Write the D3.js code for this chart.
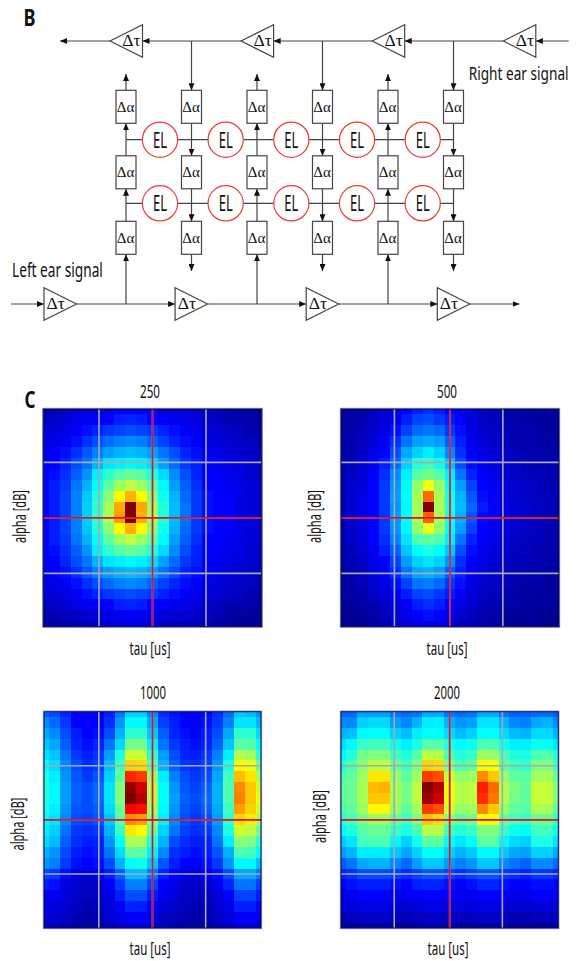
<!DOCTYPE html>
<html>
<head>
<meta charset="utf-8">
<style>
  body { margin: 0; background: #fff; }
  svg { display: block; }
  text { font-family: "Noto Sans", "Liberation Sans", sans-serif; fill: #111; }
  .sym { font-family: "Liberation Serif", serif; }
</style>
<script src="https://cdnjs.cloudflare.com/ajax/libs/d3/7.8.5/d3.min.js"></script>
</head>
<body>
<script>
var width = 577, height = 961;

// schematic network
var columns = ["c1", "c2", "c3", "c4", "c5", "c6"];
var delayRows = ["a1", "a2", "a3"];
var elRows = ["e1", "e2"];
var upColumns = ["c1", "c3", "c5"];
var downColumns = ["c2", "c4", "c6"];
var topDelays = ["t1", "t2", "t3", "t4"];
var bottomDelays = ["b1", "b2", "b3", "b4"];

// heat map panels, cell values on a 0-100 jet scale
var panelNames = ["250", "500", "1000", "2000"];
var heat250 = [
  [4,5,6,7,8,9,10,11,12,11,10,9,8,8,7,6,5,4,3,3,2],
  [6,7,8,10,11,12,13,15,16,15,13,12,11,10,9,7,6,5,5,4,3],
  [8,9,10,12,14,16,18,19,20,19,18,16,14,12,11,9,8,7,6,5,4],
  [9,10,12,14,17,20,23,25,26,25,22,19,16,14,12,10,9,8,7,6,5],
  [10,12,14,17,21,25,28,30,31,30,28,24,20,16,14,11,10,9,8,7,6],
  [11,13,16,20,24,30,35,36,37,36,34,28,23,18,15,12,11,10,9,8,7],
  [12,14,17,22,27,36,42,46,48,46,41,34,26,20,16,13,12,11,10,8,7],
  [12,15,18,24,30,38,47,53,56,53,46,37,28,22,17,13,12,11,10,9,8],
  [12,15,19,25,32,41,51,63,70,63,50,39,30,23,18,14,13,12,10,9,8],
  [12,15,19,25,33,42,54,71,100,71,53,41,31,24,18,14,13,13,10,9,8],
  [12,15,19,25,33,42,54,72,100,70,53,41,31,24,18,14,13,13,10,9,8],
  [12,15,19,25,32,41,51,63,70,63,50,39,30,23,18,14,13,12,10,9,8],
  [12,15,18,24,30,38,47,53,56,53,46,37,28,22,17,13,12,11,10,9,8],
  [12,14,17,22,27,36,42,46,48,46,41,34,26,20,16,13,12,11,10,8,7],
  [11,13,16,20,24,30,35,36,37,36,34,28,23,18,15,12,11,10,9,8,7],
  [10,12,14,17,21,25,28,30,31,30,28,24,20,16,14,11,10,9,8,7,6],
  [9,10,12,14,17,20,23,25,26,25,22,19,16,14,12,10,9,8,7,6,5],
  [8,9,10,12,14,16,18,19,20,19,18,16,14,12,11,9,8,7,6,5,4],
  [6,7,8,10,11,12,13,15,16,15,13,12,11,10,9,7,6,5,5,4,3],
  [4,5,6,7,8,9,10,11,12,11,10,9,8,8,7,6,5,4,3,3,2],
  [3,3,4,5,6,7,8,9,10,9,8,7,6,6,5,4,3,3,2,2,1]
];
var heat500 = [
  [2,3,4,5,7,9,12,15,17,15,12,10,8,6,5,4,4,3,3,3,2],
  [3,4,5,7,9,11,15,19,20,18,15,12,9,7,6,5,4,4,3,3,3],
  [3,4,6,8,10,14,19,23,24,23,18,14,10,8,7,6,5,4,4,3,3],
  [3,5,6,9,12,17,24,28,29,28,22,15,11,9,7,6,5,5,4,4,3],
  [4,5,7,10,13,20,29,33,36,33,26,17,12,10,8,7,6,5,5,4,4],
  [4,6,8,11,15,23,33,41,43,39,31,20,14,11,9,8,6,6,5,5,4],
  [5,7,9,12,17,26,36,46,49,46,36,24,16,12,10,8,7,6,6,5,4],
  [5,8,9,13,18,27,37,52,61,52,38,28,19,13,11,9,8,7,6,5,5],
  [5,8,10,13,18,28,38,54,77,54,40,30,21,14,12,9,8,7,6,6,5],
  [5,8,10,13,18,27,37,54,100,54,40,31,23,15,12,10,9,8,7,6,5],
  [5,8,10,13,18,28,38,54,78,54,40,30,21,14,12,9,8,7,6,6,5],
  [5,7,9,13,18,27,37,52,60,52,38,28,19,13,11,9,8,7,6,5,5],
  [5,7,9,12,17,25,35,45,47,45,36,24,16,12,10,8,7,6,6,5,4],
  [4,6,8,11,15,22,32,38,40,38,32,20,14,11,9,8,6,6,5,5,4],
  [4,5,7,10,13,19,28,33,35,33,27,17,12,10,8,7,6,5,5,4,4],
  [3,5,6,9,12,17,24,29,30,28,22,15,11,9,7,6,5,5,4,4,3],
  [3,4,6,8,10,14,19,24,25,23,18,14,10,8,7,6,5,4,4,3,3],
  [3,4,5,7,9,11,15,19,20,18,15,12,9,7,6,5,4,4,3,3,3],
  [2,3,4,5,7,9,12,15,17,15,12,10,8,6,5,4,4,3,3,3,2],
  [2,2,3,4,6,8,10,13,14,13,10,8,6,5,4,3,3,3,2,2,2],
  [1,2,2,3,5,6,8,9,10,9,8,6,5,4,3,3,2,2,2,1,1]
];
var heat1000 = [
  [22,20,16,12,11,12,15,24,33,33,26,17,14,12,11,13,17,23,32,31,27],
  [26,23,18,13,12,13,17,27,37,37,29,19,15,13,12,14,18,25,35,35,30],
  [29,26,20,15,13,14,20,30,42,42,32,22,16,14,13,15,20,29,42,42,34],
  [32,29,22,16,14,16,24,34,49,49,36,24,18,15,14,16,22,32,46,46,37],
  [35,32,24,18,15,18,28,40,58,57,42,28,20,16,15,18,25,36,55,53,42],
  [38,34,26,20,17,19,31,44,67,66,46,30,22,18,17,19,27,40,63,61,48],
  [40,36,27,21,18,21,33,47,84,82,52,36,25,20,18,20,29,44,69,65,54],
  [41,37,28,22,20,23,35,50,98,92,55,38,27,21,19,22,30,45,74,68,58],
  [41,37,28,22,20,23,35,50,100,95,55,38,28,22,20,23,30,45,75,68,60],
  [40,36,27,21,20,22,34,48,88,86,53,37,27,21,19,22,29,44,72,67,58],
  [38,35,26,20,19,21,32,46,74,72,50,36,26,20,18,20,28,42,66,64,54],
  [36,33,24,18,17,18,30,43,65,63,47,33,24,19,17,18,26,40,58,56,48],
  [34,31,22,17,15,16,27,38,54,54,41,30,20,17,15,16,24,36,51,50,42],
  [30,27,20,15,14,15,24,34,47,46,36,26,17,15,14,15,21,30,45,44,37],
  [27,25,18,14,13,14,20,30,38,39,32,21,15,13,13,14,18,27,37,37,31],
  [20,18,14,10,9,9,15,22,31,31,24,16,13,10,9,10,14,20,29,29,25],
  [15,14,10,8,7,7,12,18,25,25,19,13,10,8,7,8,11,16,24,24,19],
  [12,11,9,7,6,7,10,15,20,20,15,11,9,7,6,6,9,13,19,19,15],
  [10,9,8,6,5,6,9,12,16,15,12,9,7,6,5,5,8,10,15,15,13],
  [9,8,7,5,4,5,8,10,12,12,10,7,6,5,4,5,7,9,12,12,10],
  [7,6,5,4,3,4,6,8,9,9,8,6,5,4,3,4,5,7,9,9,8]
];
var heat2000 = [
  [23,23,28,28,28,24,23,24,29,29,24,23,24,29,29,24,22,22,23,23,21],
  [26,26,33,34,34,28,26,30,36,36,30,27,28,35,35,30,26,25,29,30,26],
  [30,31,37,38,38,33,31,36,38,38,34,31,33,38,38,34,31,30,34,34,30],
  [34,37,43,44,44,39,36,40,46,46,40,37,39,45,45,39,36,36,39,38,35],
  [37,41,49,50,50,44,41,46,56,55,45,41,43,53,52,45,41,40,45,46,40],
  [41,45,51,56,56,48,44,50,67,66,50,45,47,63,62,47,44,42,50,50,44],
  [45,47,53,65,65,52,47,53,82,80,57,52,53,74,68,52,47,46,53,54,48],
  [47,48,54,69,70,54,49,56,100,95,61,55,56,85,77,55,50,47,57,57,50],
  [47,48,54,68,68,54,49,56,97,92,61,55,56,83,76,55,49,47,57,57,50],
  [45,47,53,63,63,52,47,53,82,80,58,52,53,74,68,52,47,46,54,54,47],
  [42,44,49,52,52,47,44,50,68,66,50,46,48,62,62,47,44,43,48,48,43],
  [37,40,46,48,48,43,40,45,55,55,44,41,43,50,50,43,39,38,44,44,39],
  [32,35,44,45,45,37,33,39,47,47,38,35,38,47,47,37,34,33,40,40,35],
  [28,30,36,36,36,32,29,33,38,38,33,30,32,37,37,32,29,28,33,33,29],
  [22,24,29,30,30,26,23,28,32,32,28,25,27,32,32,26,24,22,26,26,23],
  [16,17,20,20,20,19,17,19,21,21,19,17,19,21,21,18,17,16,18,18,16],
  [13,14,15,15,15,14,13,15,16,16,14,13,14,16,16,14,13,12,14,14,13],
  [10,11,13,13,13,11,11,12,13,13,12,11,11,13,13,12,10,10,12,12,11],
  [8,9,10,10,10,9,8,9,10,10,9,9,9,10,10,9,8,8,9,9,8],
  [5,6,7,7,7,6,5,6,7,7,6,6,6,7,7,6,5,5,6,6,6],
  [3,3,4,4,4,3,3,4,5,5,4,3,3,4,4,3,3,3,3,3,3]
];
var heatData = [heat250, heat500, heat1000, heat2000];

// guide lines in tau / alpha units, grey ones and the red centre lines
var tauGuides = [[-490, 0, 490], [-510, 0, 485], [-495, 0, 490], [-510, 0, 485]];
var alphaGuides = [[-5.1, 0, 5.1], [-5.1, 0, 5.1], [-5, 0, 5], [-5, 0, 5]];

var jetStops = [0, 12.5, 37.5, 62.5, 87.5, 100];
var jetColors = ["#000080", "#0000ff", "#00ffff", "#ffff00", "#ff0000", "#800000"];
var jet = d3.scaleLinear().domain(jetStops).range(jetColors);

var svg = d3.select("body").append("svg")
    .attr("width", width)
    .attr("height", height);

var defs = svg.append("defs");
defs.append("filter").attr("id", "soft")
    .append("feGaussianBlur").attr("stdDeviation", 0.5);
defs.append("marker").attr("id", "head")
    .attr("viewBox", "0 0 7 6").attr("refX", 7).attr("refY", 3)
    .attr("markerWidth", 7).attr("markerHeight", 6)
    .attr("markerUnits", "userSpaceOnUse").attr("orient", "auto")
  .append("path").attr("d", "M0,0L7,3L0,6Z").attr("fill", "#111");

// squeezes Noto Sans to the condensed width of the figure's lettering
function label(x, y, size, length, str, anchor, weight, angle) {
  var t = svg.append("text")
      .attr("font-size", size)
      .attr("font-weight", weight || "normal")
      .attr("text-anchor", anchor || "middle")
      .text(str);
  var k = length / t.node().getComputedTextLength();
  t.attr("transform", "translate(" + x + "," + y + ") rotate(" + (angle || 0) + ") scale(" + k + ",1)");
  return t;
}

// --- panel B ---
var colX = d3.scalePoint().domain(columns).range([126, 453.5]);
var delayY = d3.scalePoint().domain(delayRows).range([106.8, 237.8]);
var elY = d3.scalePoint().domain(elRows).range([139.7, 203.3]);
var topTip = d3.scalePoint().domain(topDelays).range([110, 503.3]);
var bottomBase = d3.scalePoint().domain(bottomDelays).range([44, 437.3]);
var topLine = 41, bottomLine = 304, boxW = 20, boxH = 33, triW = 32.5, triH = 16.4;

var wires = svg.append("g").attr("fill", "none").attr("stroke", "#444").attr("stroke-width", 1.2);

function wire(x1, y1, x2, y2, arrow) {
  var w = wires.append("line")
      .attr("x1", x1).attr("y1", y1)
      .attr("x2", x2).attr("y2", y2);
  if (arrow) w.attr("marker-end", "url(#head)");
}

// left and right running delay lines
wire(110, topLine, 60, topLine, true);
wire(568.7, topLine, 503.3 + triW, topLine, true);
topDelays.slice(1).forEach(function(d, i) {
  wire(topTip(d), topLine, topTip(topDelays[i]) + triW, topLine, true);
});
wire(11, bottomLine, 44, bottomLine, true);
bottomDelays.slice(1).forEach(function(d, i) {
  wire(bottomBase(bottomDelays[i]) + triW, bottomLine, bottomBase(d), bottomLine, true);
});
wire(437.3 + triW, bottomLine, 519.5, bottomLine, true);

// signals climbing from the left ear line
upColumns.forEach(function(c) {
  var x = colX(c);
  wire(x, bottomLine, x, delayY("a3") + boxH / 2, true);
  wire(x, delayY("a3") - boxH / 2, x, delayY("a2") + boxH / 2, true);
  wire(x, delayY("a2") - boxH / 2, x, delayY("a1") + boxH / 2, true);
  wire(x, delayY("a1") - boxH / 2, x, 74, true);
});
// signals falling from the right ear line
downColumns.forEach(function(c) {
  var x = colX(c);
  wire(x, topLine, x, delayY("a1") - boxH / 2, true);
  wire(x, delayY("a1") + boxH / 2, x, delayY("a2") - boxH / 2, true);
  wire(x, delayY("a2") + boxH / 2, x, delayY("a3") - boxH / 2, true);
  wire(x, delayY("a3") + boxH / 2, x, 271, true);
});
elRows.forEach(function(r) {
  wire(colX("c1"), elY(r), colX("c6"), elY(r), false);
});

// delta alpha boxes
columns.forEach(function(c) {
  delayRows.forEach(function(r) {
    svg.append("rect")
        .attr("x", colX(c) - boxW / 2).attr("y", delayY(r) - boxH / 2)
        .attr("width", boxW).attr("height", boxH)
        .attr("fill", "#fff").attr("stroke", "#444").attr("stroke-width", 1.2);
    svg.append("text").attr("class", "sym")
        .attr("x", colX(c) - 0.5).attr("y", delayY(r) + 5)
        .attr("text-anchor", "middle").attr("font-size", 15)
        .text("Δα");
  });
});

// EL units sit between the columns
var elX = d3.scaleLinear().domain([0, 4]).range([160, 422.7]);
d3.range(5).forEach(function(i) {
  elRows.forEach(function(r) {
    svg.append("circle")
        .attr("cx", elX(i)).attr("cy", elY(r)).attr("r", 17.6)
        .attr("fill", "#fff").attr("stroke", "#ee3b2e").attr("stroke-width", 1.2);
    label(elX(i), elY(r) + 8, 22, 14, "EL");
  });
});

// delta tau triangles
var triLine = d3.line();
topDelays.forEach(function(d) {
  var x = topTip(d);
  svg.append("path")
      .attr("d", triLine([[x, topLine], [x + triW, topLine - triH], [x + triW, topLine + triH]]) + "Z")
      .attr("fill", "#fff").attr("stroke", "#444").attr("stroke-width", 1.2);
  svg.append("text").attr("class", "sym")
      .attr("x", x + 21.5).attr("y", topLine + 5)
      .attr("text-anchor", "middle").attr("font-size", 17.5)
      .text("Δτ");
});
bottomDelays.forEach(function(d) {
  var x = bottomBase(d);
  svg.append("path")
      .attr("d", triLine([[x + triW, bottomLine], [x, bottomLine - triH], [x, bottomLine + triH]]) + "Z")
      .attr("fill", "#fff").attr("stroke", "#444").attr("stroke-width", 1.2);
  svg.append("text").attr("class", "sym")
      .attr("x", x + 11.7).attr("y", bottomLine + 5)
      .attr("text-anchor", "middle").attr("font-size", 17.5)
      .text("Δτ");
});

label(468.7, 80, 19, 100, "Right ear signal", "start");
label(12, 276.7, 19, 91, "Left ear signal", "start");
label(23.5, 26, 24, 12, "B", "start", "bold");
label(24.5, 407.5, 24, 11, "C", "start", "bold");

// --- panel C ---
var frames = [
  {l: 43.3, r: 261.7, t: 409, b: 626.7, nameX: 150, nameY: 397.5, tauX: 150, tauY: 655, alphaX: 25.7, alphaY: 516.5},
  {l: 341, r: 559, t: 409, b: 626.7, nameX: 447, nameY: 397.5, tauX: 447, tauY: 655, alphaX: 321, alphaY: 516.5},
  {l: 44, r: 261, t: 711.7, b: 928, nameX: 153, nameY: 699, tauX: 150, tauY: 955, alphaX: 24, alphaY: 824},
  {l: 341, r: 558.3, t: 711.7, b: 928, nameX: 447, nameY: 699, tauX: 448, tauY: 955, alphaX: 325.7, alphaY: 816.5}
];

panelNames.forEach(function(name, p) {
  var f = frames[p];
  var values = heatData[p];
  var x = d3.scaleLinear().domain([-1000, 1000]).range([f.l, f.r]);
  var y = d3.scaleLinear().domain([10, -10]).range([f.t, f.b]);
  var g = svg.append("g");

  defs.append("clipPath").attr("id", "clip" + p)
    .append("rect").attr("x", f.l).attr("y", f.t)
    .attr("width", f.r - f.l).attr("height", f.b - f.t);

  // one cell per sample, first and last ones cut in half by the frame
  var cells = [];
  values.forEach(function(row, r) {
    row.forEach(function(v, c) { cells.push({r: r, c: c, v: v}); });
  });
  g.append("g").attr("clip-path", "url(#clip" + p + ")")
    .append("g").attr("filter", "url(#soft)")
    .selectAll("rect").data(cells).enter().append("rect")
      .attr("shape-rendering", "crispEdges")
      .attr("x", function(d) { return x(-1000 + 100 * d.c - 50); })
      .attr("y", function(d) { return y(10 - d.r - 0.5 + 1); })
      .attr("width", x(100) - x(0) + 0.6)
      .attr("height", y(0) - y(1) + 0.6)
      .attr("fill", function(d) { return jet(d.v); });

  // grey guides, then the red centre cross on top
  g.selectAll(".gv").data(tauGuides[p]).enter().append("line")
      .attr("x1", function(d) { return x(d); }).attr("x2", function(d) { return x(d); })
      .attr("y1", f.t).attr("y2", f.b)
      .attr("stroke", "#a8a8b4").attr("stroke-width", 1.6);
  g.selectAll(".gh").data(alphaGuides[p]).enter().append("line")
      .attr("x1", f.l).attr("x2", f.r)
      .attr("y1", function(d) { return y(d); }).attr("y2", function(d) { return y(d); })
      .attr("stroke", "#a8a8b4").attr("stroke-width", 1.6);
  g.append("line").attr("x1", x(0)).attr("x2", x(0)).attr("y1", f.t).attr("y2", f.b)
      .attr("stroke", "#e0102a").attr("stroke-width", 1.6);
  g.append("line").attr("x1", f.l).attr("x2", f.r).attr("y1", y(0)).attr("y2", y(0))
      .attr("stroke", "#e0102a").attr("stroke-width", 1.6);

  g.append("rect").attr("x", f.l - 0.7).attr("y", f.t - 0.7)
      .attr("width", f.r - f.l + 1.4).attr("height", f.b - f.t + 1.4)
      .attr("fill", "none").attr("stroke", "#9a9aff").attr("stroke-width", 1);
  g.append("rect").attr("x", f.l).attr("y", f.t)
      .attr("width", f.r - f.l).attr("height", f.b - f.t)
      .attr("fill", "none").attr("stroke", "#101030").attr("stroke-width", 1);

  label(f.nameX, f.nameY, 18.5, name.length === 3 ? 20 : 26, name);
  label(f.tauX, f.tauY, 18.5, 41, "tau [us]");
  label(f.alphaX, f.alphaY, 18.5, 53, "alpha [dB]", "middle", "normal", -90);
});
</script>
</body>
</html>
